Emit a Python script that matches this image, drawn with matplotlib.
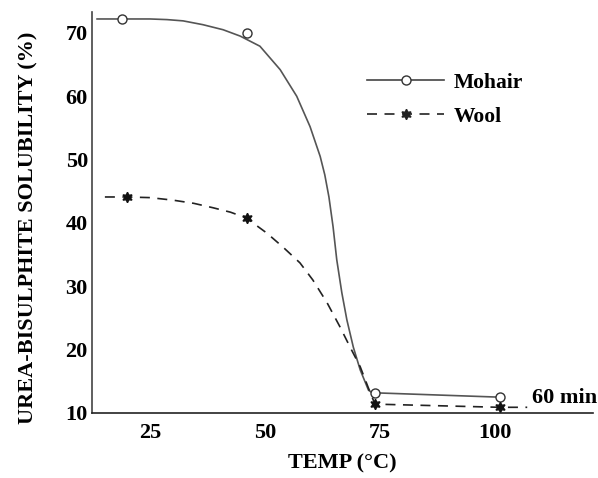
#!/usr/bin/env python3
import matplotlib
matplotlib.use('Agg')
import matplotlib.pyplot as plt

plt.rcParams['font.family'] = 'Liberation Serif'
plt.rcParams['font.weight'] = 'bold'

# measured points (temperature in deg C, solubility in %)
mohair_temp = [19, 46, 74, 101]
mohair_sol = [72.2, 70.0, 13.2, 12.5]
wool_temp = [20, 46, 74, 101]
wool_sol = [44.1, 40.8, 11.4, 10.9]

# hand-drawn curves
mohair_curve_x = [13.5, 18.9, 25.0, 28.7, 32.2, 36.5, 40.9, 44.6, 48.9, 53.3, 56.9,
                  59.8, 62.0, 63.0, 63.9, 64.8, 65.6, 66.7, 67.8, 69.2, 70.7, 72.5,
                  73.3, 101]
mohair_curve_y = [72.2, 72.2, 72.2, 72.1, 71.9, 71.3, 70.5, 69.5, 67.9, 64.2, 60.0,
                  55.2, 50.5, 47.6, 44.1, 39.4, 34.2, 29.0, 24.7, 20.4, 16.8, 13.6,
                  13.2, 12.5]
wool_curve_x = [15.2, 19.8, 25.0, 30.0, 34.5, 38.7, 42.5, 45.9, 50.4, 53.9, 57.6,
                60.4, 63.5, 66.3, 68.5, 70.7, 72.4, 73.9, 101, 107]
wool_curve_y = [44.1, 44.1, 44.0, 43.6, 43.1, 42.4, 41.7, 40.8, 38.4, 36.2, 33.7,
                31.0, 27.4, 23.6, 20.4, 17.3, 14.1, 11.4, 10.9, 10.9]

y_ticks = [10, 20, 30, 40, 50, 60, 70]
x_ticks = [25, 50, 75, 100]

fig = plt.figure(figsize=(5.98, 4.78), dpi=100)
ax = fig.add_axes([92 / 598, 1 - 413 / 478, 501 / 598, 401 / 478])

ax.plot(mohair_curve_x, mohair_curve_y, color='#555555', lw=1.2)
ax.plot(mohair_temp, mohair_sol, ls='none', marker='o', ms=6.5,
        mfc='white', mec='#333333', mew=1.0)
ax.plot(wool_curve_x, wool_curve_y, color='#222222', lw=1.2, dashes=(6, 4.5))
ax.plot(wool_temp, wool_sol, ls='none', marker=(6, 1, 0), ms=7.5,
        color='#111111')

# legend built like the original hand-drawn key
h1, = ax.plot([], [], color='#444444', lw=1.2, marker='o', ms=6.5,
              mfc='white', mec='#333333')
h2, = ax.plot([], [], color='#222222', lw=1.2, dashes=(6, 4.5),
              marker=(6, 1, 0), ms=7.5)
fig.legend([h1, h2], ['Mohair', 'Wool'], loc='upper left',
           bbox_to_anchor=(356 / 598, 1 - 62 / 478), frameon=False,
           prop={'size': 15.5, 'weight': 'bold'}, handlelength=3.6,
           handletextpad=0.45, labelspacing=0.65, borderpad=0, numpoints=1)

ax.set_xlim(12.4, 121.3)
ax.set_ylim(10, 73.3)
ax.set_xticks(x_ticks)
ax.set_yticks(y_ticks)
ax.tick_params(length=0, labelsize=16, pad=7)
ax.tick_params(axis='y', pad=3)
for s in ['top', 'right']:
    ax.spines[s].set_visible(False)
ax.spines['left'].set_color('#444444')
ax.spines['bottom'].set_color('#222222')
ax.spines['left'].set_linewidth(1.2)
ax.spines['bottom'].set_linewidth(1.2)

ax.text(108, 12.4, '60 min', fontsize=16, fontweight='bold', va='center')
fig.text(342 / 598, 1 - 463 / 478, 'TEMP (\u00b0C)', fontsize=16,
         fontweight='bold', ha='center', va='center')
fig.text(28 / 598, 1 - 228 / 478, 'UREA-BISULPHITE SOLUBILITY (%)',
         fontsize=16, fontweight='bold', rotation=90, ha='center',
         va='center')

fig.savefig('out.png', dpi=100)
